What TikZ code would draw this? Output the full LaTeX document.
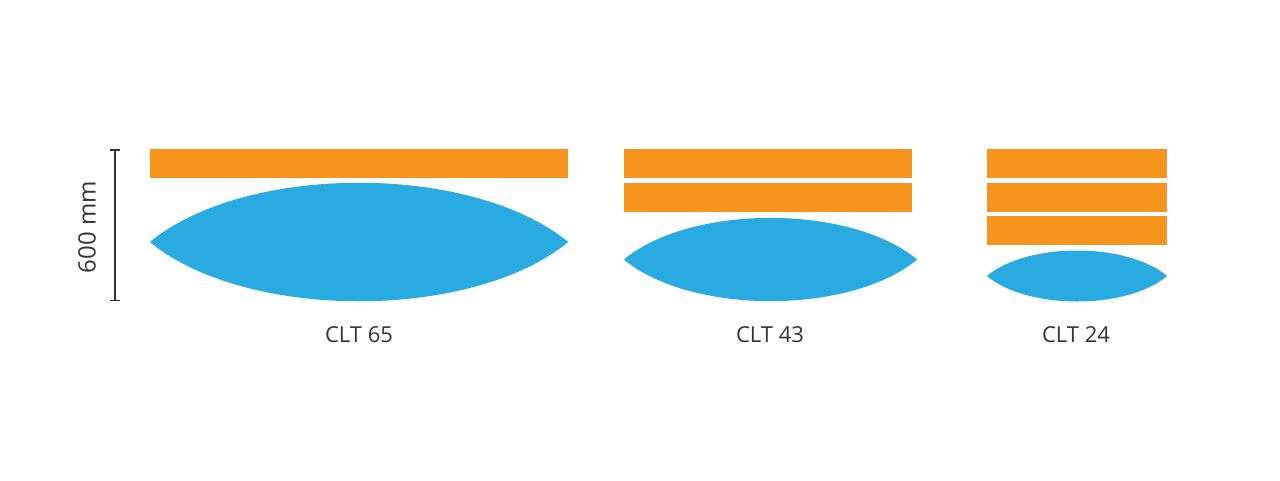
\documentclass[tikz,border=0pt]{standalone}
\usepackage{fontspec}
\setmainfont{Open Sans}
\definecolor{barorange}{HTML}{F7941D}
\definecolor{lensblue}{HTML}{29ABE2}
\definecolor{txtgray}{HTML}{333333}
\begin{document}
\begin{tikzpicture}[x=1pt,y=-1pt,
  bar/.style={fill=barorange, draw=none, inner sep=0pt, anchor=north west, minimum height=29pt},
  lens/.style={fill=lensblue, draw=lensblue, line width=1.5pt, line join=round},
  lbl/.style={text=txtgray, font=\fontsize{22}{26}\selectfont, inner sep=0pt},
  dim/.style={draw=txtgray, line width=1.3pt}]
\useasboundingbox (0,0) rectangle (1280,480);
% CLT 65
\node[bar, minimum width=418pt] (a1) at (150,149) {};
\filldraw[lens] (151,242) .. controls (247,164) and (471,164) .. (567,242)
  .. controls (471,320) and (247,320) .. (151,242) -- cycle;
\node[lbl] (la) at (359,335) {CLT 65};
% CLT 43
\node[bar, minimum width=288pt] (b1) at (624,149) {};
\node[bar, minimum width=288pt] (b2) at (624,183) {};
\filldraw[lens] (625,259.5) .. controls (692,205) and (849,205) .. (916,259.5)
  .. controls (849,314) and (692,314) .. (625,259.5) -- cycle;
\node[lbl] (lb) at (770,335) {CLT 43};
% CLT 24
\node[bar, minimum width=180pt] (c1) at (987,149) {};
\node[bar, minimum width=180pt] (c2) at (987,183) {};
\node[bar, minimum width=180pt] (c3) at (987,216) {};
\filldraw[lens] (988,276) .. controls (1029,243) and (1125,243) .. (1166,276)
  .. controls (1125,309) and (1029,309) .. (988,276) -- cycle;
\node[lbl] (lc) at (1076,335) {CLT 24};
% dimension
\coordinate (dt) at (115,150);
\coordinate (db) at (115,300.5);
\draw[dim] (dt) -- (db);
\draw[dim] ([xshift=-5pt]dt) -- ([xshift=5pt]dt);
\draw[dim] ([xshift=-5pt]db) -- ([xshift=5pt]db);
\node[lbl, rotate=90, font=\fontsize{24}{28}\selectfont] (dl) at (87,227) {600 mm};
\end{tikzpicture}
\end{document}
